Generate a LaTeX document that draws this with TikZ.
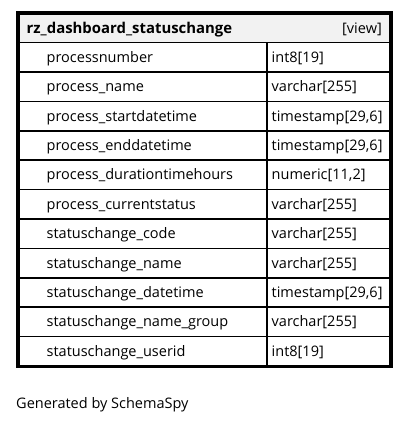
\documentclass[tikz,border=0pt]{standalone}
\usepackage{fontspec}
\setmainfont{Open Sans}
\usetikzlibrary{positioning}

\begin{document}
\begin{tikzpicture}[x=1pt,y=-1pt,
	cell/.style={anchor=base west,inner sep=0pt,font=\fontsize{14.5}{17}\selectfont},
	rowline/.style={line width=1.6pt}]
	\useasboundingbox (0,0) rectangle (409,423);

	% glava tabele
	\fill[black!5] (18,12.75) rectangle (391,42.5);
	\node[cell,font=\fontsize{14.9}{17}\selectfont\bfseries] (title) at (26.5,33) {rz\_dashboard\_statuschange};
	\node[cell,anchor=base east] (view) at (382,33) {[view]};

	% vrstice
	\foreach \i/\name/\type in {1/processnumber/int8[19], 2/process\_name/varchar[255],
		3/process\_startdatetime/timestamp[29{,}6], 4/process\_enddatetime/timestamp[29{,}6],
		5/process\_durationtimehours/numeric[11{,}2], 6/process\_currentstatus/varchar[255],
		7/statuschange\_code/varchar[255], 8/statuschange\_name/varchar[255],
		9/statuschange\_datetime/timestamp[29{,}6], 10/statuschange\_name\_group/varchar[255],
		11/statuschange\_userid/int8[19]}{
		\draw[rowline] (18,42.5+29.4*\i-29.4) -- (391,42.5+29.4*\i-29.4);
		\node[cell] (n\i) at (46.5,42.5+29.4*\i-9.6) {\name};
		\node[cell] (t\i) at (271.5,42.5+29.4*\i-9.6) {\type};
	}
	\draw[rowline] (267,42.5) -- (267,366);

	\draw[line width=3.5pt] (18,12.75) rectangle (391,366.5);

	\node[cell] (footer) at (16,408) {Generated by SchemaSpy};
\end{tikzpicture}
\end{document}
